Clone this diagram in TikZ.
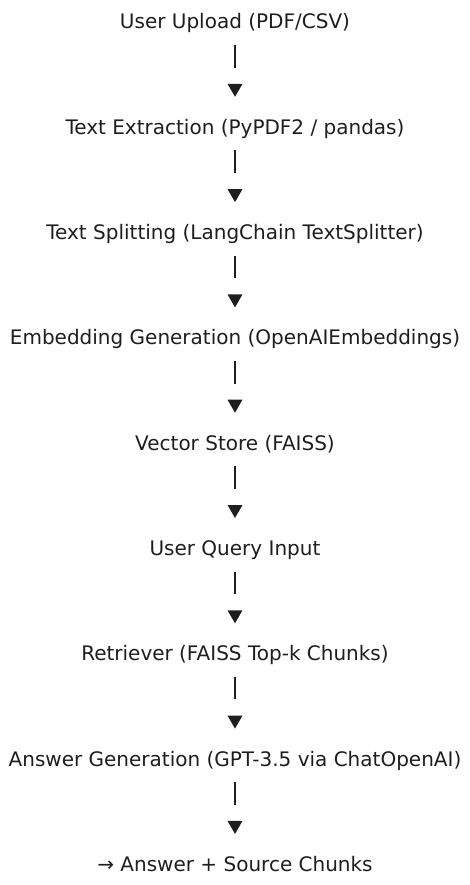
\documentclass[tikz,border=0pt]{standalone}
\usepackage{fontspec}
\setmainfont{DejaVu Sans}
\usetikzlibrary{positioning,shapes.geometric}
\definecolor{ink}{HTML}{1E1E1E}

\begin{document}
\begin{tikzpicture}
    [x=1pt,y=1pt,
    node distance=84.9pt,
    stage/.style={font=\fontsize{20}{24}\selectfont,text=ink,inner sep=0pt,
      text height=15pt,text depth=5pt},
    head/.style={regular polygon,regular polygon sides=3,shape border rotate=180,
      fill=ink,inner sep=0pt,minimum size=17.3pt},
    bar/.style={ink,line width=1.2pt,shorten <=11pt,shorten >=16pt}]
    \useasboundingbox (0,0) rectangle (470,-885);
    \node[stage,anchor=base] (upload) at (235,-29) {User Upload (PDF/CSV)};
    \node[stage] (extract) [below=of upload] {Text Extraction (PyPDF2 / pandas)};
    \node[stage] (split) [below=of extract] {Text Splitting (LangChain TextSplitter)};
    \node[stage] (embed) [below=of split] {Embedding Generation (OpenAIEmbeddings)};
    \node[stage] (store) [below=of embed] {Vector Store (FAISS)};
    \node[stage] (query) [below=of store] {User Query Input};
    \node[stage] (retrieve) [below=of query] {Retriever (FAISS Top-k Chunks)};
    \node[stage] (generate) [below=of retrieve] {Answer Generation (GPT-3.5 via ChatOpenAI)};
    \node[stage] (result) [below=of generate] {→ Answer + Source Chunks};
    % bar and head between each pair
    \foreach \a/\b [count=\i] in {upload/extract,extract/split,split/embed,embed/store,
      store/query,query/retrieve,retrieve/generate,generate/result} {
      \node[head] (head\i) [above=21.9pt of \b] {};
      \draw[bar] (\a) -- (head\i);
    }
\end{tikzpicture}
\end{document}
